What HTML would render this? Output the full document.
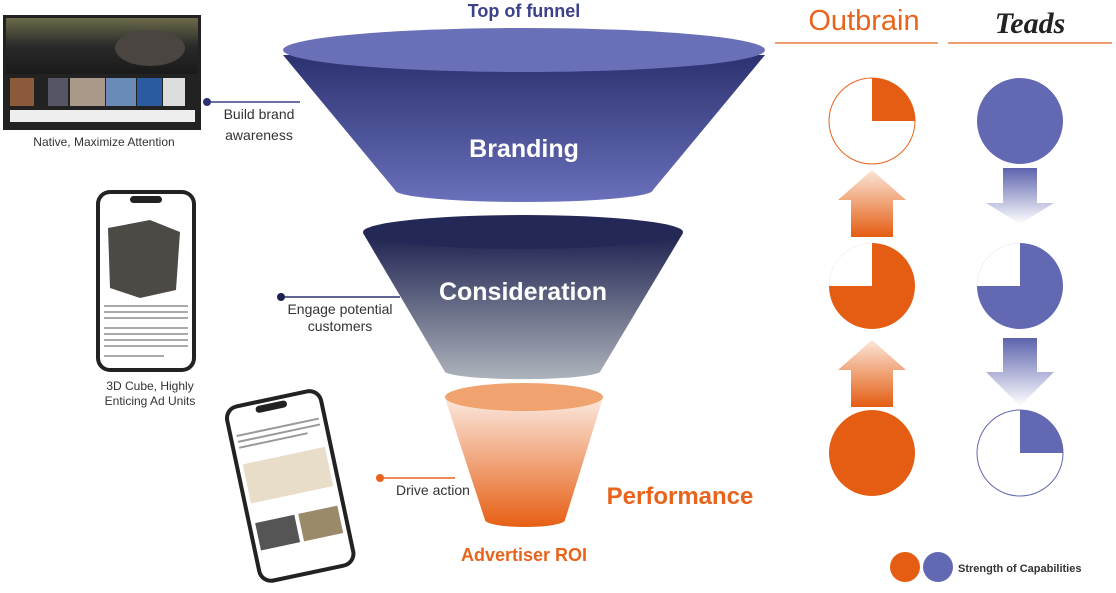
<!DOCTYPE html>
<html><head><meta charset="utf-8"><style>
body{margin:0;background:#fff;width:1116px;height:588px;overflow:hidden;font-family:"Liberation Sans",Arial,sans-serif}
</style></head><body>
<svg width="1116" height="588" viewBox="0 0 1116 588" xmlns="http://www.w3.org/2000/svg" font-family="Liberation Sans, Arial, sans-serif">
<defs>
<linearGradient id="g1" x1="0" y1="0" x2="0" y2="1"><stop offset="0" stop-color="#2c3270"/><stop offset="1" stop-color="#6a70ba"/></linearGradient>
<linearGradient id="g2" x1="0" y1="0" x2="0" y2="1"><stop offset="0" stop-color="#1e2250"/><stop offset="1" stop-color="#adb3bb"/></linearGradient>
<linearGradient id="g3" x1="0" y1="0" x2="0" y2="1"><stop offset="0" stop-color="#fbe8de"/><stop offset="1" stop-color="#e65f14"/></linearGradient>
<linearGradient id="ua" x1="0" y1="1" x2="0" y2="0"><stop offset="0" stop-color="#e45d12"/><stop offset="1" stop-color="#fbe6d8"/></linearGradient>
<linearGradient id="da" x1="0" y1="0" x2="0" y2="1"><stop offset="0" stop-color="#5d63ad"/><stop offset="1" stop-color="#ffffff"/></linearGradient>
<linearGradient id="tv" x1="0" y1="0" x2="0" y2="1"><stop offset="0" stop-color="#6b6a4a"/><stop offset="0.5" stop-color="#2a2a2a"/><stop offset="1" stop-color="#1a1a1a"/></linearGradient>
</defs>

<!-- TV -->
<rect x="3" y="15" width="198" height="115" fill="#222"/>
<rect x="6" y="18" width="192" height="56" fill="url(#tv)"/>
<ellipse cx="150" cy="48" rx="35" ry="18" fill="#4a4540"/>
<g fill="#8a5a3a"><rect x="10" y="78" width="24" height="28"/><rect x="48" y="78" width="20" height="28" fill="#556"/><rect x="70" y="78" width="35" height="28" fill="#a98"/><rect x="106" y="78" width="30" height="28" fill="#6a8ab8"/><rect x="137" y="78" width="25" height="28" fill="#2a5aa0"/><rect x="163" y="78" width="22" height="28" fill="#ddd"/></g>
<rect x="10" y="110" width="185" height="12" fill="#eee"/>
<text x="104" y="146" font-size="12" fill="#333" text-anchor="middle">Native, Maximize Attention</text>

<!-- phone 1 -->
<rect x="96" y="190" width="100" height="182" rx="14" fill="#222"/>
<rect x="100" y="194" width="92" height="174" rx="10" fill="#fff"/>
<rect x="130" y="196" width="32" height="7" rx="3.5" fill="#222"/>
<polygon points="108,228 150,220 180,232 176,290 140,298 110,288" fill="#4d4a45"/>
<g fill="#aaa"><rect x="104" y="305" width="84" height="2"/><rect x="104" y="311" width="84" height="2"/><rect x="104" y="317" width="84" height="2"/><rect x="104" y="327" width="84" height="2"/><rect x="104" y="333" width="84" height="2"/><rect x="104" y="339" width="84" height="2"/><rect x="104" y="345" width="84" height="2"/><rect x="104" y="355" width="60" height="2"/></g>
<text x="150" y="390" font-size="12" fill="#333" text-anchor="middle">3D Cube, Highly</text>
<text x="150" y="405" font-size="12" fill="#333" text-anchor="middle">Enticing Ad Units</text>

<!-- phone 2 -->
<g transform="rotate(-12 290 485)">
<rect x="240" y="395" width="100" height="182" rx="14" fill="#222"/>
<rect x="244" y="399" width="92" height="174" rx="10" fill="#fff"/>
<rect x="272" y="401" width="32" height="7" rx="3.5" fill="#222"/>
<g fill="#999"><rect x="248" y="425" width="84" height="2"/><rect x="248" y="431" width="84" height="2"/><rect x="248" y="437" width="70" height="2"/></g>
<rect x="248" y="455" width="84" height="40" fill="#e7ddc8"/>
<rect x="248" y="515" width="40" height="28" fill="#555"/><rect x="292" y="515" width="40" height="28" fill="#9a8a6a"/>
</g>

<!-- funnel 1 -->
<path d="M283 55 L395 190 A129 12 0 0 0 653 190 L765 55 Z" fill="url(#g1)"/>
<ellipse cx="524" cy="50" rx="241" ry="22" fill="#6a70b8"/>
<text x="524" y="12" font-size="18" font-weight="bold" fill="#3b418a" text-anchor="middle" dy="5">Top of funnel</text>
<text x="524" y="157" font-size="25" font-weight="bold" fill="#fff" text-anchor="middle">Branding</text>

<!-- funnel 2 -->
<path d="M363 233 L445 372 A78 8 0 0 0 600 372 L683 233 Z" fill="url(#g2)"/>
<ellipse cx="523" cy="232" rx="160" ry="17" fill="#242857"/>
<text x="523" y="300" font-size="25" font-weight="bold" fill="#fff" text-anchor="middle">Consideration</text>

<!-- funnel 3 -->
<path d="M445 398 L485 520 A40 7 0 0 0 565 520 L603 398 Z" fill="url(#g3)"/>
<ellipse cx="524" cy="397" rx="79" ry="14" fill="#f0a36e"/>
<text x="680" y="504" font-size="24" font-weight="bold" fill="#e8641c" text-anchor="middle">Performance</text>
<text x="524" y="561" font-size="18" font-weight="bold" fill="#e8641c" text-anchor="middle">Advertiser ROI</text>

<!-- connectors -->
<line x1="207" y1="102" x2="300" y2="102" stroke="#3b418a" stroke-width="1.5"/><circle cx="207" cy="102" r="4" fill="#2c3270"/>
<text x="259" y="119" font-size="14" fill="#333" text-anchor="middle">Build brand</text>
<text x="259" y="140" font-size="14" fill="#333" text-anchor="middle">awareness</text>
<line x1="281" y1="297" x2="400" y2="297" stroke="#2c3270" stroke-width="1.5"/><circle cx="281" cy="297" r="4" fill="#1e2250"/>
<text x="340" y="314" font-size="14" fill="#333" text-anchor="middle">Engage potential</text>
<text x="340" y="331" font-size="14" fill="#333" text-anchor="middle">customers</text>
<line x1="380" y1="478" x2="455" y2="478" stroke="#e8641c" stroke-width="1.5"/><circle cx="380" cy="478" r="4" fill="#e8641c"/>
<text x="433" y="495" font-size="14" fill="#333" text-anchor="middle">Drive action</text>

<!-- logos -->
<text x="864" y="30" font-size="29" fill="#e8641c" text-anchor="middle">Outbrain</text>
<text x="1030" y="33" font-size="30" fill="#222" text-anchor="middle" font-style="italic" font-family="Liberation Serif, serif" font-weight="bold">Teads</text>
<line x1="775" y1="43" x2="938" y2="43" stroke="#e8641c" stroke-width="1.2"/>
<line x1="948" y1="43" x2="1112" y2="43" stroke="#e8641c" stroke-width="1.2"/>

<!-- Outbrain circles -->
<circle cx="872" cy="121" r="43" fill="#fff" stroke="#e8641c" stroke-width="1"/>
<path d="M872 121 L872 78 A43 43 0 0 1 915 121 Z" fill="#e45d12"/>
<circle cx="872" cy="286" r="43" fill="#e45d12"/>
<path d="M872 286 L872 243 A43 43 0 0 0 829 286 Z" fill="#fff"/>
<circle cx="872" cy="453" r="43" fill="#e45d12"/>
<path d="M838 200 L872 170 L906 200 L893 200 L893 237 L851 237 L851 200 Z" fill="url(#ua)"/>
<path d="M838 370 L872 340 L906 370 L893 370 L893 407 L851 407 L851 370 Z" fill="url(#ua)"/>

<!-- Teads circles -->
<circle cx="1020" cy="121" r="43" fill="#6268b2"/>
<circle cx="1020" cy="286" r="43" fill="#6268b2"/>
<path d="M1020 286 L1020 243 A43 43 0 0 0 977 286 Z" fill="#fff"/>
<circle cx="1020" cy="453" r="43" fill="#fff" stroke="#6268b2" stroke-width="1"/>
<path d="M1020 453 L1020 410 A43 43 0 0 1 1063 453 Z" fill="#6268b2"/>
<path d="M1003 168 L1037 168 L1037 203 L1054 203 L1020 224 L986 203 L1003 203 Z" fill="url(#da)"/>
<path d="M1003 338 L1037 338 L1037 372 L1054 372 L1020 406 L986 372 L1003 372 Z" fill="url(#da)"/>

<!-- legend -->
<circle cx="905" cy="567" r="15" fill="#e45d12"/>
<circle cx="938" cy="567" r="15" fill="#6268b2"/>
<text x="958" y="572" font-size="11" font-weight="bold" fill="#333">Strength of Capabilities</text>
</svg>
</body></html>
